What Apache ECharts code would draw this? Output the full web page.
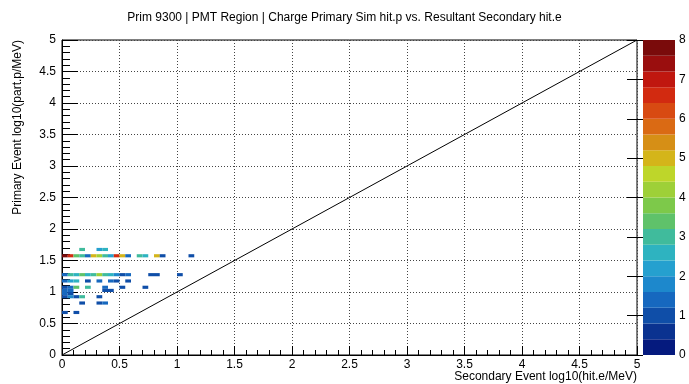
<!DOCTYPE html>
<html>
<head>
<meta charset="utf-8">
<script src="https://cdn.jsdelivr.net/npm/echarts@6/dist/echarts.min.js"></script>
<style>
  html, body { margin: 0; padding: 0; background: #fff; }
  #chart { width: 689px; height: 384px; }
</style>
</head>
<body>
<div id="chart"></div>
<script>
// 2D histogram: bins of 0.05 x 0.05 in log10(E/MeV)
const BIN = 0.05;

// Lower-left edge of each filled bin (secondary log10 E, primary log10 p) and its entries
const binSecondary = [
  0.15, 0.30, 0.35,
  0.00, 0.05, 0.10, 0.15, 0.20, 0.25, 0.30, 0.35, 0.40, 0.45, 0.50, 0.55, 0.65, 0.70, 0.80, 0.85, 1.10,
  0.00, 0.05, 0.10, 0.15, 0.20, 0.25, 0.30, 0.35, 0.40, 0.45, 0.50, 0.55, 0.75, 0.80, 1.00,
  0.00, 0.05, 0.10, 0.20, 0.30, 0.40, 0.45, 0.55,
  0.00, 0.05, 0.10, 0.20, 0.35, 0.50, 0.70,
  0.00, 0.05, 0.35, 0.40,
  0.00, 0.05,
  0.00, 0.05, 0.10, 0.15, 0.30,
  0.15, 0.30, 0.35,
  0.00, 0.10
];
const binPrimary = [
  1.65, 1.65, 1.65,
  1.55, 1.55, 1.55, 1.55, 1.55, 1.55, 1.55, 1.55, 1.55, 1.55, 1.55, 1.55, 1.55, 1.55, 1.55, 1.55, 1.55,
  1.25, 1.25, 1.25, 1.25, 1.25, 1.25, 1.25, 1.25, 1.25, 1.25, 1.25, 1.25, 1.25, 1.25, 1.25,
  1.15, 1.15, 1.15, 1.15, 1.15, 1.15, 1.15, 1.15,
  1.05, 1.05, 1.05, 1.05, 1.05, 1.05, 1.05,
  1.00, 1.00, 1.00, 1.00,
  0.95, 0.95,
  0.90, 0.90, 0.90, 0.90, 0.90,
  0.80, 0.80, 0.80,
  0.65, 0.65
];
const binCounts = [
  3.0, 2.2, 2.8,
  7.8, 6.6, 3.3, 2.9, 1.4, 5.0, 4.3, 2.9, 2.0, 6.5, 5.1, 1.3, 3.0, 2.7, 5.0, 1.2, 1.1,
  1.5, 3.0, 2.6, 3.2, 2.8, 3.0, 4.2, 3.0, 2.6, 1.6, 1.2, 1.4, 1.0, 1.0, 1.1,
  1.3, 2.0, 2.8, 1.2, 1.3, 1.4, 1.0, 1.2,
  1.2, 1.4, 3.2, 3.0, 1.3, 1.0, 1.0,
  1.5, 1.3, 1.2, 1.0,
  1.4, 1.1,
  1.2, 1.6, 1.0, 3.0, 1.1,
  1.2, 1.1, 1.3,
  1.0, 1.1
];

// Diagonal reference line E_secondary = p_primary
const diagX = [0, 5];
const diagY = [0, 5];

// Colour palette: 20 contour levels from 0 to 8
const Z_MIN = 0, Z_MAX = 8;
const paletteColors = [
  '#051a7e', '#0a3290', '#0f4ea8', '#1668bf', '#1d88cc',
  '#25a0cf', '#2eb3c0', '#40bb9c', '#5fc26a', '#7dc94a',
  '#9ed038', '#bed62a', '#d4b51a', '#d68f16', '#da6a14',
  '#d84a12', '#d22a10', '#c0170f', '#9a0e0e', '#7a0b0b'
];

const levelStep = (Z_MAX - Z_MIN) / paletteColors.length;
const pieces = paletteColors.map((c, i) => (
  i === paletteColors.length - 1
    ? { gte: Z_MIN + i * levelStep, lte: Z_MAX, color: c }
    : { gte: Z_MIN + i * levelStep, lt: Z_MIN + (i + 1) * levelStep, color: c }
));

const cells = binSecondary.map((x, i) => [x, binPrimary[i], binCounts[i]]);
const paletteBands = paletteColors.map((c, i) => [Z_MIN + i * levelStep, Z_MIN + (i + 1) * levelStep, i]);

const FONT = 'Liberation Sans, Arial, Helvetica, sans-serif';
const dotted = { color: '#444', width: 1, type: [1, 2] };

const chart = echarts.init(document.getElementById('chart'), null, { renderer: 'canvas' });

chart.setOption({
  animation: false,
  backgroundColor: '#fff',
  textStyle: { fontFamily: FONT },
  title: {
    text: 'Prim 9300 | PMT Region | Charge Primary Sim hit.p vs. Resultant Secondary hit.e',
    left: 'center',
    top: 7,
    textStyle: { fontFamily: FONT, fontSize: 12, fontWeight: 'normal', color: '#000' }
  },
  grid: [
    { left: 62, right: 52, top: 40, bottom: 29, show: true, borderColor: '#000', borderWidth: 1, backgroundColor: 'transparent' },
    { left: 643, width: 32, top: 40, bottom: 29, show: false }
  ],
  xAxis: [
    {
      gridIndex: 0, type: 'value', min: 0, max: 5, interval: 0.5,
      axisLine: { show: true, onZero: false, lineStyle: { color: '#000', width: 1 } },
      axisTick: { show: true, inside: true, length: 9, lineStyle: { color: '#000' } },
      minorTick: { show: true, splitNumber: 5, length: 5, lineStyle: { color: '#000' } },
      splitLine: { show: true, lineStyle: dotted },
      axisLabel: { color: '#000', fontSize: 12, fontFamily: FONT, margin: 4 }
    },
    { gridIndex: 1, type: 'value', min: 0, max: 1, show: false }
  ],
  yAxis: [
    {
      gridIndex: 0, type: 'value', min: 0, max: 5, interval: 0.5,
      axisLine: { show: true, onZero: false, lineStyle: { color: '#000', width: 1 } },
      axisTick: { show: true, inside: true, length: 16, lineStyle: { color: '#000' } },
      minorTick: { show: true, splitNumber: 5, length: 8, lineStyle: { color: '#000' } },
      splitLine: { show: true, lineStyle: dotted },
      axisLabel: { color: '#000', fontSize: 12, fontFamily: FONT, margin: 6 }
    },
    {
      gridIndex: 1, type: 'value', min: Z_MIN, max: Z_MAX, interval: 1, position: 'right',
      axisLine: { show: false },
      axisTick: { show: true, inside: true, length: 16, lineStyle: { color: '#000' } },
      splitLine: { show: false },
      axisLabel: { color: '#000', fontSize: 12, fontFamily: FONT, margin: 4 }
    }
  ],
  visualMap: {
    type: 'piecewise',
    show: false,
    seriesIndex: 0,
    dimension: 2,
    pieces: pieces
  },
  series: [
    {
      name: 'hits',
      type: 'custom',
      xAxisIndex: 0, yAxisIndex: 0,
      data: cells,
      encode: { x: 0, y: 1 },
      clip: true,
      renderItem: function (params, api) {
        const x0 = api.value(0), y0 = api.value(1);
        const p0 = api.coord([x0, y0]);
        const p1 = api.coord([x0 + BIN, y0 + BIN]);
        return {
          type: 'rect',
          shape: { x: p0[0], y: p1[1], width: p1[0] - p0[0], height: p0[1] - p1[1] },
          style: { fill: api.visual('color') }
        };
      }
    },
    {
      name: 'diagonal',
      type: 'line',
      xAxisIndex: 0, yAxisIndex: 0,
      data: diagX.map((x, i) => [x, diagY[i]]),
      symbol: 'none',
      lineStyle: { color: '#000', width: 1 },
      z: 5
    },
    {
      name: 'palette',
      type: 'custom',
      xAxisIndex: 1, yAxisIndex: 1,
      data: paletteBands,
      encode: { y: [0, 1] },
      renderItem: function (params, api) {
        const lo = api.coord([0, api.value(0)]);
        const hi = api.coord([1, api.value(1)]);
        return {
          type: 'rect',
          shape: { x: lo[0], y: hi[1], width: hi[0] - lo[0], height: lo[1] - hi[1] },
          style: { fill: paletteColors[api.value(2)] }
        };
      },
      z: 1
    }
  ],
  graphic: [
    {
      type: 'text', x: 637, y: 377,
      style: {
        text: 'Secondary Event log10(hit.e/MeV)', align: 'right', verticalAlign: 'middle',
        font: '12px ' + FONT, fill: '#000'
      }
    },
    {
      type: 'text', x: 18, y: 40, rotation: Math.PI / 2,
      style: {
        text: 'Primary Event log10(part.p/MeV)', align: 'right', verticalAlign: 'middle',
        font: '12px ' + FONT, fill: '#000'
      }
    }
  ]
});
</script>
</body>
</html>
